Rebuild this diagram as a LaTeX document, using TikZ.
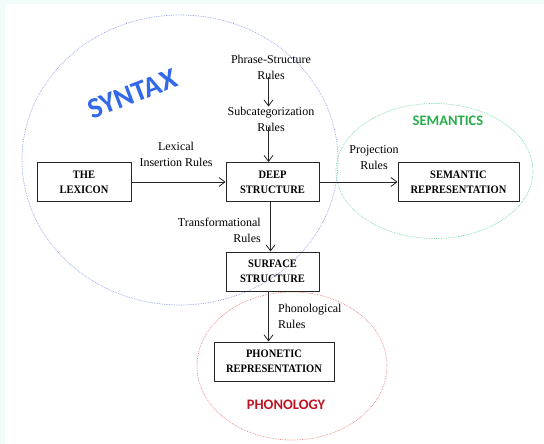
\documentclass[tikz,border=0pt]{standalone}
\usepackage{fontspec}
\setmainfont{Liberation Serif}
\newfontfamily\boxfont[FakeStretch=0.92]{Liberation Serif}
\newfontfamily\labelsans{Carlito}
\usetikzlibrary{arrows.meta}
\definecolor{pagetint}{HTML}{F2FAFA}
\definecolor{syntaxblue}{RGB}{50,105,235}
\definecolor{syntaxring}{RGB}{140,155,235}
\definecolor{semgreen}{RGB}{40,175,75}
\definecolor{semring}{RGB}{110,220,160}
\definecolor{phonred}{RGB}{190,20,35}
\definecolor{phonring}{RGB}{235,130,130}
\tikzset{
  x=1pt, y=-1pt,
  stagebox/.style={draw=black!85, line width=1pt, align=center, inner sep=0pt,
    minimum height=39pt, font=\boxfont\fontsize{11.4}{15}\selectfont\bfseries},
  rulelabel/.style={align=center, inner sep=1pt, font=\fontsize{12}{16}\selectfont},
  flow/.style={draw=black!85, line width=0.8pt, -{Straight Barb[length=6pt,width=9pt]}},
  ring/.style={densely dotted, line width=0.7pt},
  areaname/.style={font=\labelsans\bfseries\fontsize{14.5}{16}\selectfont, inner sep=0pt}
}
\begin{document}
\begin{tikzpicture}
% page ground with a tinted margin on the left and top
\useasboundingbox (0,0) rectangle (544,444);
\fill[pagetint] (0,0) rectangle (544,444);
\fill[white] (5,4) rectangle (544,444);

% the three areas of the grammar
\draw[ring, draw=syntaxring] (180,160) ellipse [x radius=158, y radius=145];
\draw[ring, draw=semring] (434.5,171) ellipse [x radius=98.5, y radius=67.5];
\draw[ring, draw=phonring] (292,366) ellipse [x radius=95, y radius=74];

\node[areaname, text=syntaxblue, font=\labelsans\bfseries\fontsize{29}{30}\selectfont, rotate=21]
  (syntax) at (132.5,94) {SYNTAX};
\node[areaname, text=semgreen] (semantics) at (448,121) {SEMANTICS};
\node[areaname, text=phonred] (phonology) at (286,405) {PHONOLOGY};

% components
\node[stagebox, minimum width=94pt] (lexicon) at (84,182) {THE\\LEXICON};
\node[stagebox, minimum width=93pt] (deep) at (272.5,182) {DEEP\\STRUCTURE};
\node[stagebox, minimum width=121pt] (semrep) at (458.5,182) {SEMANTIC\\REPRESENTATION};
\node[stagebox, minimum width=93pt] (surface) at (272.5,271.5) {SURFACE\\STRUCTURE};
\node[stagebox, minimum width=120pt] (phonetic) at (274,361.5) {PHONETIC\\REPRESENTATION};

% rule labels
\node[rulelabel] (psrules) at (271,67) {Phrase-Structure\\Rules};
\node[rulelabel] (subcat) at (271,119) {Subcategorization\\Rules};
\node[rulelabel] (lexins) at (176,154) {Lexical\\Insertion Rules};
\node[rulelabel] (proj) at (374,157.5) {Projection\\Rules};
\node[rulelabel, align=right, anchor=east] (transf) at (262,230) {Transformational\\Rules};
\node[rulelabel, align=left, anchor=west] (phonrules) at (277,316) {Phonological\\Rules};

% vertical line of the rule chain
\coordinate (chain) at (268.5,0);
\coordinate (down) at (270.5,0);

% connectors
\draw[flow] ([yshift=3pt]psrules.south -| chain) -- ([yshift=-1pt]subcat.north -| chain);
\draw[flow] ([yshift=5pt]subcat.south -| chain) -- (deep.north -| chain);
\draw[flow] (lexicon.east) -- (deep.west);
\draw[flow] (deep.east) -- (semrep.west);
\draw[flow] (deep.south -| down) -- (surface.north -| down);
\draw[flow] (surface.south -| chain) -- (phonetic.north -| chain);
\end{tikzpicture}
\end{document}
